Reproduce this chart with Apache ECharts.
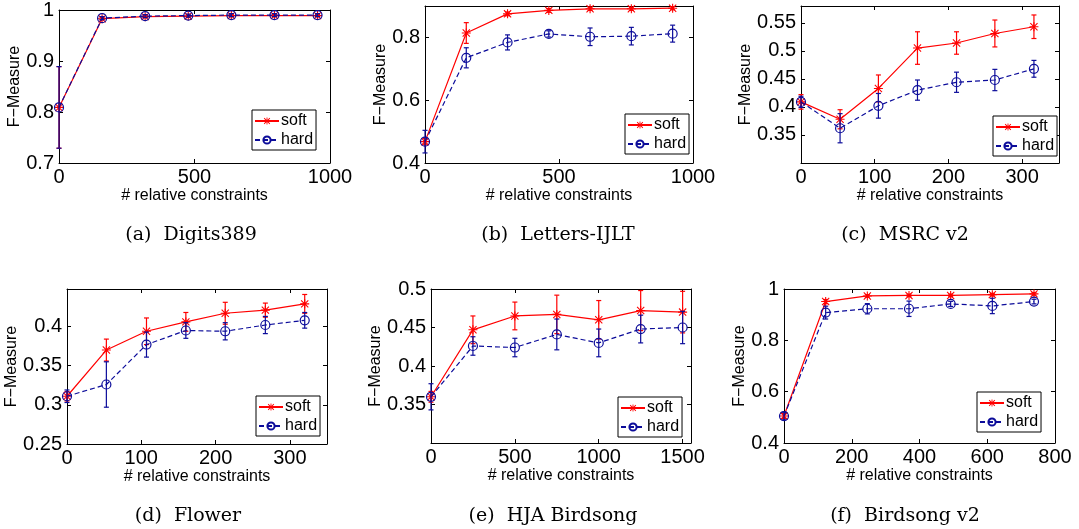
<!DOCTYPE html>
<html>
<head>
<meta charset="utf-8">
<script src="https://cdn.jsdelivr.net/npm/echarts@6/dist/echarts.min.js"></script>
<style>html,body{margin:0;padding:0;background:#fff;}#c{width:1079px;height:529px;}</style>
</head>
<body>
<div id="c"></div>
<script>
// ---------- data ----------
const captions = ['(a)  Digits389', '(b)  Letters-IJLT', '(c)  MSRC v2', '(d)  Flower', '(e)  HJA Birdsong', '(f)  Birdsong v2'];
const seriesNames = ['soft', 'hard'];
const xLabel = '# relative constraints';
const yLabel = 'F\u2212Measure';

const xA = [0, 159, 318, 477, 636, 795, 954];
const softA = [0.809, 0.983, 0.987, 0.988, 0.989, 0.989, 0.989];
const softErrA = [0.08, 0.002, 0.002, 0.002, 0.002, 0.002, 0.002];
const hardA = [0.809, 0.984, 0.988, 0.989, 0.990, 0.990, 0.990];
const hardErrA = [0.08, 0.003, 0.003, 0.003, 0.003, 0.003, 0.003];

const xB = [0, 154, 308, 462, 616, 770, 924];
const softB = [0.468, 0.814, 0.875, 0.886, 0.891, 0.891, 0.893];
const softErrB = [0.01, 0.033, 0.006, 0.006, 0.005, 0.005, 0.005];
const hardB = [0.468, 0.735, 0.784, 0.811, 0.802, 0.804, 0.812];
const hardErrB = [0.036, 0.032, 0.024, 0.01, 0.028, 0.028, 0.027];

const xC = [0, 53, 105, 158, 211, 263, 316];
const softC = [0.409, 0.378, 0.433, 0.505, 0.514, 0.531, 0.543];
const softErrC = [0.013, 0.017, 0.024, 0.029, 0.02, 0.024, 0.021];
const hardC = [0.409, 0.362, 0.402, 0.430, 0.444, 0.448, 0.468];
const hardErrC = [0.01, 0.026, 0.022, 0.018, 0.018, 0.019, 0.015];

const xD = [0, 53, 107, 160, 213, 267, 320];
const softD = [0.311, 0.370, 0.394, 0.406, 0.417, 0.421, 0.429];
const softErrD = [0.006, 0.014, 0.017, 0.012, 0.014, 0.009, 0.012];
const hardD = [0.311, 0.326, 0.377, 0.395, 0.394, 0.402, 0.408];
const hardErrD = [0.008, 0.029, 0.016, 0.01, 0.011, 0.011, 0.01];

const xE = [0, 250, 500, 750, 1000, 1250, 1500];
const softE = [0.360, 0.447, 0.465, 0.467, 0.460, 0.472, 0.470];
const softErrE = [0.007, 0.018, 0.018, 0.025, 0.025, 0.026, 0.027];
const hardE = [0.360, 0.426, 0.424, 0.441, 0.430, 0.448, 0.450];
const hardErrE = [0.017, 0.012, 0.012, 0.02, 0.018, 0.018, 0.021];

const xF = [0, 123, 246, 369, 492, 615, 738];
const softF = [0.505, 0.951, 0.973, 0.975, 0.975, 0.978, 0.981];
const softErrF = [0.01, 0.008, 0.005, 0.005, 0.005, 0.005, 0.005];
const hardF = [0.505, 0.908, 0.923, 0.923, 0.942, 0.934, 0.951];
const hardErrF = [0.015, 0.025, 0.02, 0.03, 0.01, 0.03, 0.009];

// axis ranges [min, max, interval]
const xRanges = [[0, 1000, 500], [0, 1000, 500], [0, 350, 100], [0, 350, 100], [0, 1550, 500], [0, 800, 200]];
const yRanges = [[0.7, 1, 0.1], [0.4, 0.9, 0.2], [0.3, 0.58, 0.05], [0.25, 0.448, 0.05], [0.3, 0.5, 0.05], [0.4, 1, 0.2]];

// ---------- layout / style ----------
const grids = [
  {left: 59, top: 6, width: 271, height: 157},
  {left: 425, top: 6, width: 268, height: 157},
  {left: 801, top: 6, width: 258, height: 157},
  {left: 67, top: 289, width: 260, height: 155},
  {left: 431, top: 289, width: 260, height: 154},
  {left: 784, top: 289, width: 271, height: 154}
];
const legendPos = [[252, 110], [625, 114], [993, 116], [256, 396], [618, 397], [977, 392]];
const captionPos = [[186, 221], [553, 221], [900, 221], [183, 502], [548, 502], [900, 502]];
const hideMin = [false, false, true, false, true, false];
const hideMaxY = [false, true, true, true, false, false];
const hideMaxX = [false, false, true, true, true, false];

const RED = '#ff0000';
const BLUE = '#0c0c9a';
const FONT = 'Liberation Sans';
const STAR = 'path://M44 0L56 0L56 100L44 100Z M0 44L100 44L100 56L0 56Z M14.2 5.8L94.2 85.8L85.8 94.2L5.8 14.2Z M85.8 5.8L94.2 14.2L14.2 94.2L5.8 85.8Z';

const panels = [
  [xA, softA, softErrA, hardA, hardErrA],
  [xB, softB, softErrB, hardB, hardErrB],
  [xC, softC, softErrC, hardC, hardErrC],
  [xD, softD, softErrD, hardD, hardErrD],
  [xE, softE, softErrE, hardE, hardErrE],
  [xF, softF, softErrF, hardF, hardErrF]
];

function errRender(color) {
  return function (params, api) {
    const x = api.value(0), y = api.value(1), e = api.value(2);
    const t = api.coord([x, y + e]);
    const b = api.coord([x, y - e]);
    const h = 2.5;
    const st = {stroke: color, lineWidth: 1.2};
    return {type: 'group', children: [
      {type: 'line', shape: {x1: t[0], y1: t[1], x2: b[0], y2: b[1]}, style: st},
      {type: 'line', shape: {x1: t[0] - h, y1: t[1], x2: t[0] + h, y2: t[1]}, style: st},
      {type: 'line', shape: {x1: b[0] - h, y1: b[1], x2: b[0] + h, y2: b[1]}, style: st}
    ]};
  };
}
const plainNum = v => String(+v.toFixed(6));

const option = {
  animation: false,
  backgroundColor: '#fff',
  grid: [], xAxis: [], yAxis: [], series: [], legend: [], title: []
};

panels.forEach((p, i) => {
  const [xs, sv, se, hv, he] = p;
  option.grid.push(Object.assign({show: false, containLabel: false}, grids[i]));
  const tickStyle = {show: true, inside: true, length: 4, lineStyle: {color: '#000', width: 1}};
  const lineStyle = {show: true, onZero: false, lineStyle: {color: '#000', width: 1}};
  const xr = xRanges[i], yr = yRanges[i];
  option.xAxis.push({
    type: 'value', gridIndex: i, min: xr[0], max: xr[1], interval: xr[2],
    axisLine: lineStyle, axisTick: tickStyle, splitLine: {show: false},
    axisLabel: {color: '#000', fontFamily: FONT, fontSize: 20, margin: 4, showMaxLabel: !hideMaxX[i], formatter: plainNum},
    name: xLabel, nameLocation: 'middle', nameGap: 23,
    nameTextStyle: {color: '#000', fontFamily: FONT, fontSize: 16}
  });
  option.yAxis.push({
    type: 'value', gridIndex: i, min: yr[0], max: yr[1], interval: yr[2],
    axisLine: lineStyle, axisTick: tickStyle, splitLine: {show: false},
    axisLabel: {color: '#000', fontFamily: FONT, fontSize: 20, margin: 5, formatter: plainNum,
      showMinLabel: !hideMin[i], showMaxLabel: !hideMaxY[i]},
    name: yLabel, nameLocation: 'middle', nameRotate: 90, nameGap: 27,
    nameTextStyle: {color: '#000', fontFamily: FONT, fontSize: 16}
  });
  option.xAxis.push({
    type: 'value', gridIndex: i, position: 'top', min: xr[0], max: xr[1], interval: xr[2],
    axisLine: lineStyle, axisTick: tickStyle, splitLine: {show: false}, axisLabel: {show: false}
  });
  option.yAxis.push({
    type: 'value', gridIndex: i, position: 'right', min: yr[0], max: yr[1], interval: yr[2],
    axisLine: lineStyle, axisTick: tickStyle, splitLine: {show: false}, axisLabel: {show: false}
  });
  const xi = 2 * i, yi = 2 * i;
  const softData = xs.map((x, k) => [x, sv[k]]);
  const hardData = xs.map((x, k) => [x, hv[k]]);
  const softErr = xs.map((x, k) => [x, sv[k], se[k]]);
  const hardErr = xs.map((x, k) => [x, hv[k], he[k]]);
  option.series.push(
    {type: 'custom', name: 'soft-err', xAxisIndex: xi, yAxisIndex: yi, data: softErr,
     renderItem: errRender(RED), z: 2, silent: true, clip: false},
    {type: 'line', name: 'soft', xAxisIndex: xi, yAxisIndex: yi, data: softData,
     symbol: STAR, symbolSize: 9, showAllSymbol: true,
     lineStyle: {color: RED, width: 1.2, type: 'solid'},
     itemStyle: {color: RED, borderWidth: 0}, z: 3},
    {type: 'custom', name: 'hard-err', xAxisIndex: xi, yAxisIndex: yi, data: hardErr,
     renderItem: errRender(BLUE), z: 4, silent: true, clip: false},
    {type: 'line', name: 'hard', xAxisIndex: xi, yAxisIndex: yi, data: hardData,
     symbol: 'circle', symbolSize: 9, showAllSymbol: true,
     lineStyle: {color: BLUE, width: 1.2, type: [5, 3]},
     itemStyle: {color: 'rgba(0,0,0,0)', borderColor: BLUE, borderWidth: 1.2}, z: 5}
  );
  option.legend.push({
    left: legendPos[i][0], top: legendPos[i][1], orient: 'vertical',
    data: seriesNames, itemWidth: 24, itemHeight: 9, itemGap: 3,
    padding: [3, 3, 2, 2], borderColor: '#000', borderWidth: 1, backgroundColor: '#fff',
    textStyle: {color: '#000', fontFamily: FONT, fontSize: 16, padding: [0, 0, 0, -3]},
    selectedMode: false
  });
  option.title.push({
    text: captions[i], left: captionPos[i][0], top: captionPos[i][1], textAlign: 'center',
    textStyle: {color: '#000', fontFamily: 'DejaVu Serif', fontSize: 19, fontWeight: 'normal'}
  });
});

const chart = echarts.init(document.getElementById('c'), null, {renderer: 'canvas'});
chart.setOption(option);
</script>
</body>
</html>
